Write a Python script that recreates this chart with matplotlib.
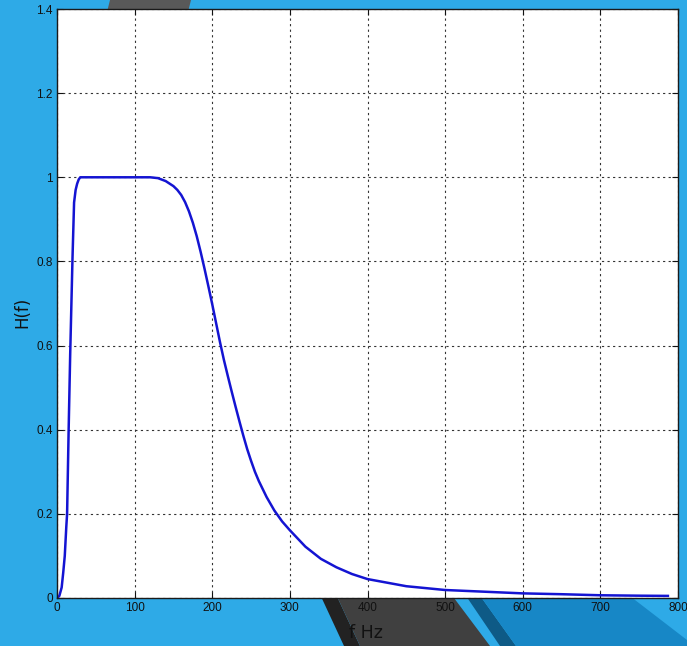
import matplotlib
matplotlib.use("Agg")
import matplotlib.pyplot as plt
from matplotlib.patches import Polygon

# frequency response
freq = [0, 3, 6, 8, 10, 12, 13, 15, 17, 20, 22, 24, 26, 28, 30, 40, 60, 80, 100,
        120, 130, 140, 150, 155, 160, 165, 170, 175, 180, 185, 190, 195, 200, 205,
        210, 215, 220, 225, 230, 235, 240, 245, 250, 255, 260, 270, 280, 290, 300,
        320, 340, 360, 380, 400, 450, 500, 550, 600, 650, 700, 750, 787]
H = [0, 0.005, 0.025, 0.06, 0.1, 0.17, 0.2, 0.4, 0.58, 0.81, 0.94, 0.97, 0.985,
     0.995, 1.0, 1.0, 1.0, 1.0, 1.0, 1.0, 0.998, 0.991, 0.979, 0.97, 0.958, 0.941,
     0.919, 0.892, 0.86, 0.823, 0.783, 0.741, 0.698, 0.653, 0.608, 0.566, 0.528,
     0.491, 0.455, 0.42, 0.386, 0.354, 0.326, 0.3, 0.278, 0.24, 0.208, 0.182,
     0.161, 0.122, 0.093, 0.073, 0.057, 0.045, 0.028, 0.019, 0.015, 0.011, 0.009,
     0.0065, 0.0055, 0.005]
xticks = [0, 100, 200, 300, 400, 500, 600, 700, 800]
yticks = [0, 0.2, 0.4, 0.6, 0.8, 1, 1.2, 1.4]
ytick_labels = ["0", "0.2", "0.4", "0.6", "0.8", "1", "1.2", "1.4"]

W, Hpx = 687, 646
BG = "#2EAAE7"

fig = plt.figure(figsize=(W / 100, Hpx / 100), dpi=100, facecolor=BG)


def shape(pts, color):
    # pts in pixel coords, y measured from top
    p = Polygon([(x / W, 1 - y / Hpx) for x, y in pts], closed=True,
                transform=fig.transFigure, facecolor=color, edgecolor="none", zorder=-5)
    fig.patches.append(p)


# background decoration (slide theme)
shape([(110, 0), (191, 0), (188, 12), (107, 12)], "#595959")
shape([(318, 590), (334, 590), (360, 646), (344, 646)], "#222222")
shape([(334, 590), (448, 590), (490, 646), (360, 646)], "#404040")
shape([(462, 590), (476, 590), (516, 646), (500, 646)], "#0E5A86")
shape([(476, 590), (622, 590), (687, 640), (687, 646), (516, 646)], "#1787C6")

ax = fig.add_axes([57 / W, (Hpx - 598) / Hpx, 621 / W, 589 / Hpx], zorder=2)
ax.set_facecolor("white")
ax.plot(freq, H, color="#1414D2", lw=1.8)

ax.set_xlim(0, 800); ax.set_ylim(0, 1.4)
ax.set_xticks(xticks); ax.set_yticks(yticks)
ax.set_yticklabels(ytick_labels)
ax.tick_params(direction="in", top=True, right=True, length=4, width=0.8,
               labelsize=8.5, pad=3, colors="#111111")
for lab in ax.get_xticklabels() + ax.get_yticklabels():
    lab.set_fontfamily("Liberation Sans")
ax.grid(True, color="#333333", linestyle=(0, (2, 3)), linewidth=0.8)
for s in ax.spines.values():
    s.set_color("#1a1a1a"); s.set_linewidth(1.0)

fig.text(22 / W, 1 - 312 / Hpx, "H(f)", rotation=90, fontsize=12,
         ha="center", va="center", color="#111111")
fig.text(366 / W, 1 - 633 / Hpx, "f Hz", fontsize=12.5,
         ha="center", va="center", color="#111111")

fig.savefig("out.png", dpi=100, facecolor=BG)
